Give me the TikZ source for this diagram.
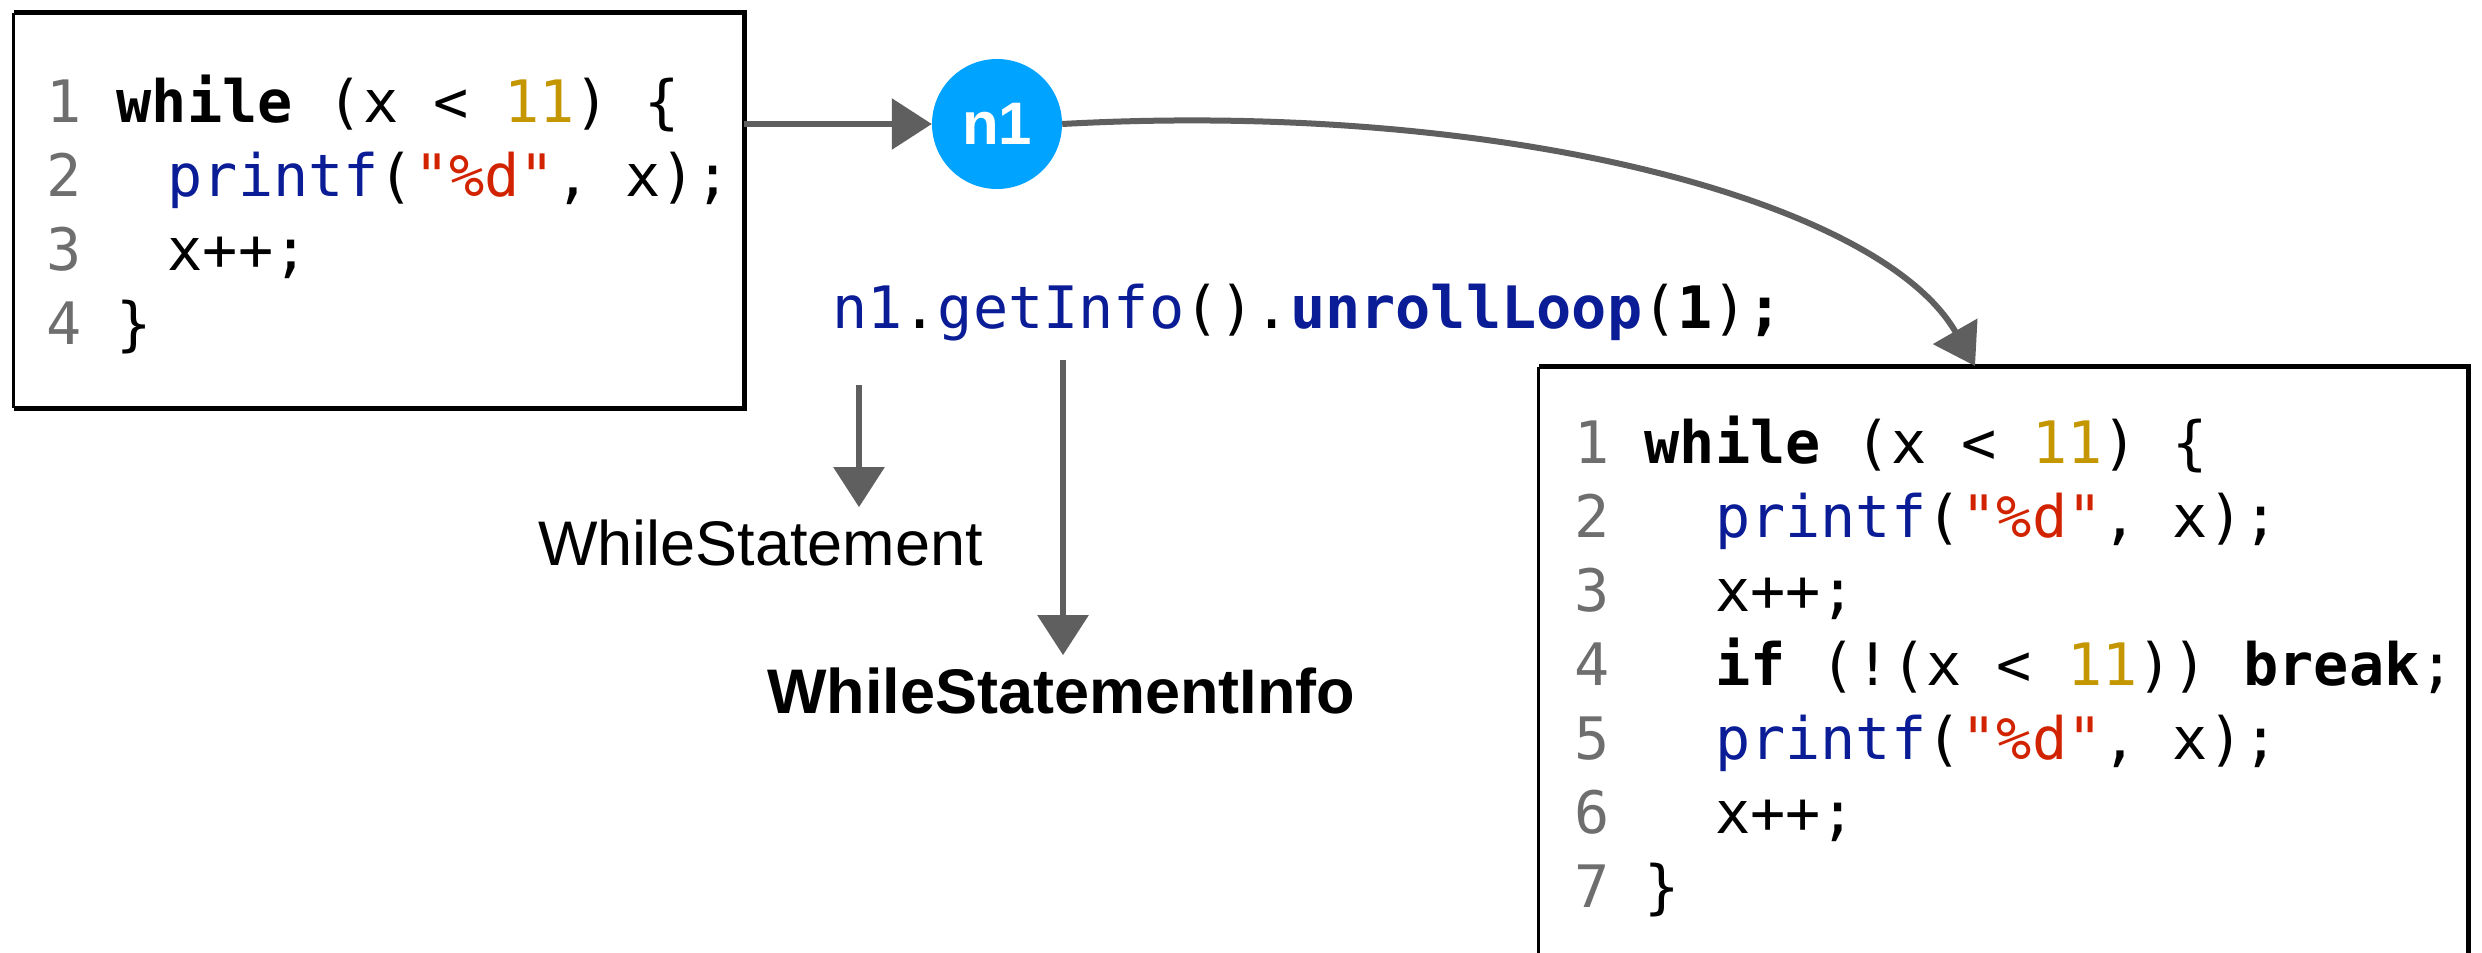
\documentclass[tikz,border=0pt]{standalone}
\usepackage{fontspec}
\setmainfont{Liberation Sans}
\newfontfamily\codefont{DejaVu Sans Mono}
\usetikzlibrary{arrows.meta}
\definecolor{lnum}{RGB}{110,110,110}
\definecolor{numgold}{RGB}{196,150,0}
\definecolor{strred}{RGB}{210,35,0}
\definecolor{fnblue}{RGB}{10,28,150}
\definecolor{nblue}{RGB}{0,163,255}
\definecolor{arrgray}{RGB}{95,95,95}
\newcommand{\lnr}[1]{{\color{lnum}#1}}
\newcommand{\cnum}[1]{{\color{numgold}#1}}
\newcommand{\cstr}[1]{{\color{strred}#1}}
\newcommand{\cfn}[1]{{\color{fnblue}#1}}
\newcommand{\kw}[1]{{\bfseries #1}}
\tikzset{
  code/.style={font=\codefont\fontsize{58.5}{74}\selectfont, inner sep=0pt, anchor=base west},
  sanslabel/.style={font=\fontsize{63}{70}\selectfont, inner xsep=0pt, inner ysep=12pt, anchor=base west},
  boxframe/.style={draw=none, inner sep=0pt},
  thinedge/.style={line width=3pt, black},
  thickedge/.style={line width=5pt, black, line join=miter},
  arr/.style={draw=arrgray, line width=6pt, -{Triangle[length=40pt,width=50pt]}},
}
\begin{document}
\begin{tikzpicture}[x=1pt,y=-1pt]
\clip (0,0) rectangle (2482,953);
\fill[white] (0,0) rectangle (2482,953);
% left box
\node[boxframe, minimum width=730pt, minimum height=395pt] (lbox) at (379,210.5) {};
\draw[thinedge] (lbox.south west) -- (lbox.north west);
\draw[thickedge] (lbox.north west) -- (lbox.north east) -- (lbox.south east) -- (lbox.south west);
\node[code] (l1) at (46,122) {\lnr{1}~\kw{while} (x < \cnum{11}) \{};
\node[code] (l2) at (46,196) {\lnr{2}~\hspace{51pt}\cfn{printf}(\cstr{"\%d"}, x);};
\node[code] (l3) at (46,270) {\lnr{3}~\hspace{51pt}x++;};
\node[code] (l4) at (46,344) {\lnr{4}~\}};
% n1
\node[circle, fill=nblue, minimum size=130pt, inner sep=0pt, text=white,
      font=\bfseries\fontsize{60}{60}\selectfont] (n1) at (997,124) {n1};
% right box
\node[boxframe, minimum width=929pt, minimum height=633pt] (rbox) at (2003.5,683.5) {};
\draw[thinedge] (rbox.south west) -- (rbox.north west);
\draw[thickedge] (rbox.north west) -- (rbox.north east) -- (rbox.south east);
\node[code] (r1) at (1574,463) {\lnr{1}~\kw{while} (x < \cnum{11}) \{};
\node[code] (r2) at (1574,537) {\lnr{2}~~~\cfn{printf}(\cstr{"\%d"}, x);};
\node[code] (r3) at (1574,611) {\lnr{3}~~~x++;};
\node[code] (r4) at (1574,685) {\lnr{4}~~~\kw{if} (!(x < \cnum{11})) \kw{break};};
\node[code] (r5) at (1574,759) {\lnr{5}~~~\cfn{printf}(\cstr{"\%d"}, x);};
\node[code] (r6) at (1574,833) {\lnr{6}~~~x++;};
\node[code] (r7) at (1574,907) {\lnr{7}~\}};
% call line
\node[code] (call) at (832,328) {\cfn{n1}.\cfn{getInfo}().\cfn{\bfseries unrollLoop}(\kw{1})\kw{;}};
% labels
\node[sanslabel] (ws) at (538,565) {WhileStatement};
\node[sanslabel, font=\bfseries\fontsize{63}{70}\selectfont] (wsi) at (767,713) {WhileStatementInfo};
% connectors
\draw[arr] (lbox.east |- n1.west) -- (n1.west);
\coordinate (rin) at (1975,366);
\draw[arr] (n1.east) .. controls (1500,100) and (1880,200) .. (rin);
\coordinate (d1) at (859,385);
\draw[arr] (d1) -- (d1 |- ws.north);
\coordinate (d2) at (1063,360);
\draw[arr] (d2) -- (d2 |- wsi.north);
\end{tikzpicture}
\end{document}
